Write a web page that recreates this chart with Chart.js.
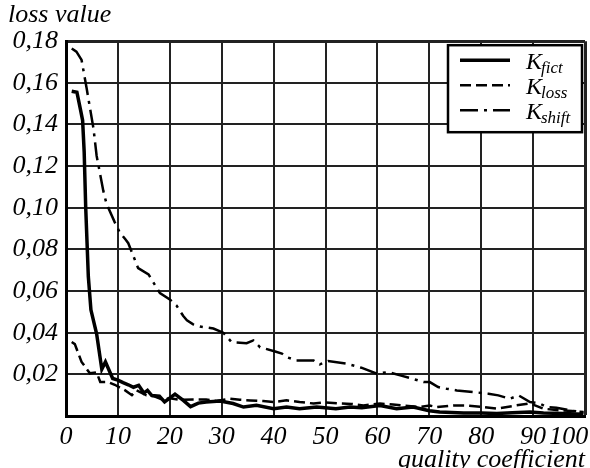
<!DOCTYPE html>
<html>
<head>
<meta charset="utf-8">
<script src="https://cdn.jsdelivr.net/npm/chart.js@4"></script>
<style>
  html, body { margin: 0; padding: 0; background: #fff; }
  #wrap { width: 590px; height: 468px; }
</style>
</head>
<body>
<div id="wrap"><canvas id="lossChart" width="590" height="468"></canvas></div>
<script>
// tick labels
const xTickLabels = ["0", "10", "20", "30", "40", "50", "60", "70", "80", "90", "100     "];
const yTickLabels = ["", "0,02", "0,04", "0,06", "0,08", "0,10", "0,12", "0,14", "0,16", "0,18"];

// series names (K + subscript)
const legendSub = ["fict", "loss", "shift"];

// K_fict
const fictX = [1.1, 2.1, 2.8, 3.2, 3.5, 3.8, 4.3, 4.8, 5.9, 6.9, 7.6, 8.3, 9.0, 10, 11, 12, 13, 14, 15, 15.7,
  16.5, 18, 19, 21, 22.6, 24, 25.5, 27, 29.7, 32.2, 34.2, 36.7, 40, 42.5, 45, 48.3, 52, 54.7, 57, 60.5,
  63.7, 66.9, 70, 72, 76.6, 80, 83, 86, 89.4, 92, 95.8, 99.7];
const fictY = [0.156, 0.1555, 0.147, 0.142, 0.127, 0.100, 0.067, 0.051, 0.0395, 0.0225, 0.026, 0.022, 0.018, 0.0172, 0.016, 0.015, 0.0138, 0.0147, 0.011, 0.0123,
  0.0099, 0.0095, 0.0068, 0.0105, 0.0075, 0.0045, 0.0062, 0.0067, 0.0072, 0.006, 0.0043, 0.0051, 0.0035, 0.0043, 0.0035, 0.0043, 0.0035, 0.0043, 0.004, 0.005,
  0.0035, 0.0043, 0.0025, 0.0019, 0.0014, 0.0015, 0.0012, 0.0016, 0.0019, 0.0014, 0.0012, 0.0008];

// K_loss
const lossX = [1.1, 1.7, 3, 4.6, 5.9, 6.6, 8.1, 9.4, 11.4, 12.7, 13.6, 15.5, 17, 18.5, 20, 22, 24.5, 27, 29, 31.6,
  33.5, 35.5, 38, 40, 42.5, 45, 47.7, 50, 52.8, 55, 57.3, 60.5, 63, 65, 68.2, 70.1, 71.4, 74.6, 77.2, 80.4,
  83, 86.8, 89.4, 92, 95.2, 97.5, 99.7];
const lossY = [0.0355, 0.0345, 0.026, 0.0205, 0.021, 0.0163, 0.0163, 0.015, 0.0123, 0.010, 0.0123, 0.0099, 0.0095, 0.008, 0.0085, 0.0078, 0.0079, 0.0079, 0.0072, 0.0083,
  0.0078, 0.0075, 0.0072, 0.0067, 0.0075, 0.0067, 0.006, 0.0065, 0.006, 0.0058, 0.0051, 0.006, 0.0055, 0.005, 0.0043, 0.005, 0.0043, 0.0051, 0.005, 0.0043,
  0.0035, 0.0051, 0.006, 0.0035, 0.0027, 0.0024, 0.0019];

// K_shift
const shiftX = [1.1, 2, 3, 4, 5.3, 5.9, 7.2, 7.8, 9.4, 10.4, 11.4, 12, 13.9, 15.9, 18.1, 20, 21.3, 22.6, 23.3, 24.5,
  25.8, 28.4, 30.3, 31.9, 34.8, 36.1, 37.4, 40.3, 41.6, 42.5, 44.4, 47.7, 48.9, 50.5, 54.1, 56.9, 59.9, 62.1, 64.4, 66.6,
  68.9, 70.1, 71.7, 73.3, 75.3, 78.5, 81.4, 83.3, 85.5, 87.2, 89.4, 91.3, 92.6, 94.5, 97.1, 99.7];
const shiftY = [0.1765, 0.175, 0.171, 0.157, 0.138, 0.125, 0.108, 0.102, 0.093, 0.088, 0.085, 0.083, 0.071, 0.068, 0.059, 0.056, 0.053, 0.048, 0.046, 0.044,
  0.043, 0.042, 0.040, 0.0355, 0.035, 0.0363, 0.033, 0.031, 0.030, 0.0283, 0.0267, 0.0267, 0.0248, 0.0264, 0.0251, 0.0232, 0.0203, 0.0211, 0.0195, 0.018,
  0.0163, 0.0163, 0.0139, 0.0131, 0.0123, 0.0115, 0.0107, 0.0099, 0.0083, 0.0099, 0.0067, 0.006, 0.0043, 0.004, 0.0027, 0.0017];

const toPoints = (xs, ys) => xs.map((x, i) => ({ x: x, y: ys[i] }));

const serif = "'Liberation Serif', 'Times New Roman', serif";
Chart.defaults.font.family = serif;
Chart.defaults.font.style = "italic";
Chart.defaults.font.size = 26;
Chart.defaults.color = "#000";

// boxed legend with subscripts, top right inside the plot
const boxLegend = {
  id: "boxLegend",
  afterDatasetsDraw(chart) {
    const { ctx, chartArea } = chart;
    const w = 134, h = 87;
    const left = chartArea.right - 3 - w;
    const top = chartArea.top + 4;
    ctx.save();
    ctx.fillStyle = "#fff";
    ctx.fillRect(left, top, w, h);
    ctx.lineWidth = 2.5;
    ctx.strokeStyle = "#000";
    ctx.strokeRect(left, top, w, h);
    chart.data.datasets.forEach((ds, i) => {
      const y = top + 15 + i * 25;
      ctx.beginPath();
      ctx.setLineDash(ds.borderDash || []);
      ctx.lineWidth = ds.borderWidth;
      ctx.moveTo(left + 12, y);
      ctx.lineTo(left + 62, y);
      ctx.stroke();
      ctx.setLineDash([]);
      ctx.fillStyle = "#000";
      ctx.textBaseline = "alphabetic";
      ctx.textAlign = "left";
      ctx.font = "italic 24px " + serif;
      ctx.fillText("K", left + 78, y + 9);
      const kw = ctx.measureText("K").width;
      ctx.font = "italic 17px " + serif;
      ctx.fillText(legendSub[i], left + 77 + kw, y + 13);
    });
    ctx.restore();
  }
};

const ctxLine = document.getElementById("lossChart").getContext("2d");
new Chart(ctxLine, {
  type: "line",
  data: {
    datasets: [
      {
        label: "K fict",
        data: toPoints(fictX, fictY),
        borderColor: "#000",
        borderWidth: 3.5,
        pointRadius: 0,
        fill: false
      },
      {
        label: "K loss",
        data: toPoints(lossX, lossY),
        borderColor: "#000",
        borderWidth: 2.5,
        borderDash: [11, 5],
        pointRadius: 0,
        fill: false
      },
      {
        label: "K shift",
        data: toPoints(shiftX, shiftY),
        borderColor: "#000",
        borderWidth: 2.5,
        borderDash: [18, 6, 3, 6],
        pointRadius: 0,
        fill: false
      }
    ]
  },
  options: {
    responsive: false,
    animation: false,
    layout: { padding: { left: 8, right: 5, top: 0, bottom: 0 } },
    plugins: {
      legend: { display: false },
      tooltip: { enabled: false },
      title: {
        display: true,
        text: "loss value",
        align: "start",
        font: { size: 26, style: "italic", weight: "normal", lineHeight: 1.2 },
        padding: { top: 0, bottom: 10 }
      }
    },
    scales: {
      x: {
        type: "linear",
        min: 0,
        max: 100,
        ticks: {
          stepSize: 10,
          autoSkip: false,
          minRotation: 0,
          maxRotation: 0,
          padding: 6,
          callback: (v, i) => xTickLabels[i] !== undefined ? xTickLabels[i] : String(v)
        },
        grid: {
          color: "#222",
          drawTicks: false,
          lineWidth: c => (c.tick && c.tick.value === 100) ? 3 : 2
        },
        border: { color: "#000", width: 3 },
        title: {
          display: true,
          text: "quality coefficient",
          align: "end",
          font: { size: 26, style: "italic", weight: "normal", lineHeight: 1 },
          padding: { top: 0, bottom: -5 }
        },
        afterFit: s => { s.height = 52; s.paddingLeft = 0; s.paddingRight = 0; }
      },
      y: {
        min: 0,
        max: 0.18,
        ticks: {
          stepSize: 0.02,
          padding: 8,
          callback: (v, i) => yTickLabels[i] !== undefined ? yTickLabels[i] : ""
        },
        grid: {
          color: "#222",
          drawTicks: false,
          lineWidth: c => (c.tick && Math.abs(c.tick.value - 0.18) < 1e-9) ? 3 : 2
        },
        border: { color: "#000", width: 3 },
        afterFit: s => { s.width = 58; }
      }
    }
  },
  plugins: [boxLegend]
});
</script>
</body>
</html>
